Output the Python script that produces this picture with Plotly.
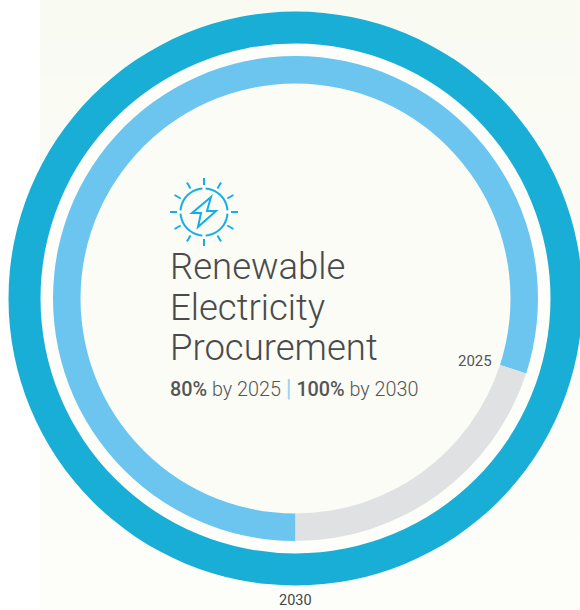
import math
import plotly.graph_objects as go

W, H = 590, 620   # canvas runs slightly past the 580x610 window: the outer ring is clipped at the right edge
cx, cy = 295.5, 298.5

outer_labels = ["2030"]
outer_values = [100]
inner_labels = ["Procured by 2025", "Remaining"]
inner_values = [80, 20]
ring_colors_outer = ["#18AED6"]
ring_colors_inner = ["#6BC5EE", "#E0E1E3"]

title_lines = ["Renewable", "Electricity", "Procurement"]
FONT = "Roboto"


def px(x):
    return x / W


def py(y):
    return 1 - y / H


def circle(r, fill):
    return dict(type="circle", xref="paper", yref="paper", layer="below",
                x0=px(cx - r), x1=px(cx + r), y0=py(cy + r), y1=py(cy - r),
                fillcolor=fill, line_width=0)


def domain(r):
    return dict(x=[px(cx - r), px(cx + r)], y=[py(cy + r), py(cy - r)])


shapes = []
# soft vertical background wash
bands = 16
c0, c1 = (249, 250, 242), (253, 254, 250)
for b in range(bands):
    t = b / (bands - 1)
    col = tuple(round(c0[i] + (c1[i] - c0[i]) * t) for i in range(3))
    shapes.append(dict(type="rect", xref="paper", yref="paper", layer="below",
                       x0=px(40), x1=1, y0=py(H * (b + 1) / bands), y1=py(H * b / bands),
                       fillcolor=f"rgb{col}", line_width=0))
shapes += [circle(256, "#FDFDF9"), circle(216, "#FBFCF6")]

# sun icon
ic = (204, 212)
icon_color = "#12AEEA"
for i in range(12):
    a = math.radians(i * 30)
    r0, r1 = 27, 34
    shapes.append(dict(type="line", xref="paper", yref="paper", layer="above",
                       x0=px(ic[0] + r0 * math.sin(a)), y0=py(ic[1] - r0 * math.cos(a)),
                       x1=px(ic[0] + r1 * math.sin(a)), y1=py(ic[1] - r1 * math.cos(a)),
                       line=dict(color=icon_color, width=2)))


def arc(start, end, r=23.5):
    pts = []
    for k in range(21):
        a = math.radians(start + (end - start) * k / 20)
        pts.append((ic[0] + r * math.sin(a), ic[1] - r * math.cos(a)))
    return pts


def path(pts, close=False):
    s = "M" + " L".join(f"{px(x):.5f},{py(y):.5f}" for x, y in pts)
    return s + (" Z" if close else "")


for st, en in [(4, 86), (94, 176), (184, 266), (274, 356)]:
    shapes.append(dict(type="path", xref="paper", yref="paper", layer="above", path=path(arc(st, en)),
                       line=dict(color=icon_color, width=2)))
bolt = [(211, 197), (192, 213), (201, 213), (198, 227), (216, 211), (207, 211)]
shapes.append(dict(type="path", xref="paper", yref="paper", layer="above", path=path(bolt, True),
                   line=dict(color=icon_color, width=2)))

annotations = []
for line, y in zip(title_lines, [266.6, 307, 347]):
    annotations.append(dict(text=line, x=px(167.5), y=py(y), xref="paper", yref="paper", xanchor="left",
                            yanchor="middle", showarrow=False,
                            font=dict(family=FONT, size=36.5, color="#4A4A4A", weight=300)))
annotations.append(dict(
    text="<span style='font-weight:500'>80%</span> by 2025 "
         "<span style='color:#9AD3EE;font-weight:400;font-size:24px'>|</span> "
         "<span style='font-weight:500'>100%</span> by 2030",
    x=px(168), y=py(388), xref="paper", yref="paper", xanchor="left", yanchor="middle", showarrow=False,
    font=dict(family=FONT, size=19.8, color="#555555", weight=300)))
annotations.append(dict(text="2025", x=px(474.5), y=py(361), xref="paper", yref="paper", xanchor="center",
                        yanchor="middle", showarrow=False, font=dict(family=FONT, size=15, color="#555555")))
annotations.append(dict(text=outer_labels[0], x=px(295), y=py(600.5), xref="paper", yref="paper",
                        xanchor="center", yanchor="middle", showarrow=False,
                        font=dict(family=FONT, size=14.5, color="#444444")))

fig = go.Figure()
fig.add_trace(go.Pie(labels=outer_labels, values=outer_values, hole=255 / 287, domain=domain(287),
                     marker=dict(colors=ring_colors_outer, line_width=0), textinfo="none", sort=False))
fig.add_trace(go.Pie(labels=inner_labels, values=inner_values, hole=215 / 242.5, domain=domain(242.5),
                     marker=dict(colors=ring_colors_inner, line_width=0), textinfo="none", sort=False,
                     direction="clockwise", rotation=180))
fig.update_layout(width=W, height=H, margin=dict(l=0, r=0, t=0, b=0), showlegend=False,
                  paper_bgcolor="#FFFFFF", shapes=shapes, annotations=annotations)
fig.write_html("out.html", config={"displayModeBar": False},
               post_script="document.documentElement.style.overflow='hidden';document.body.style.overflow='hidden';document.body.style.margin='0';")
